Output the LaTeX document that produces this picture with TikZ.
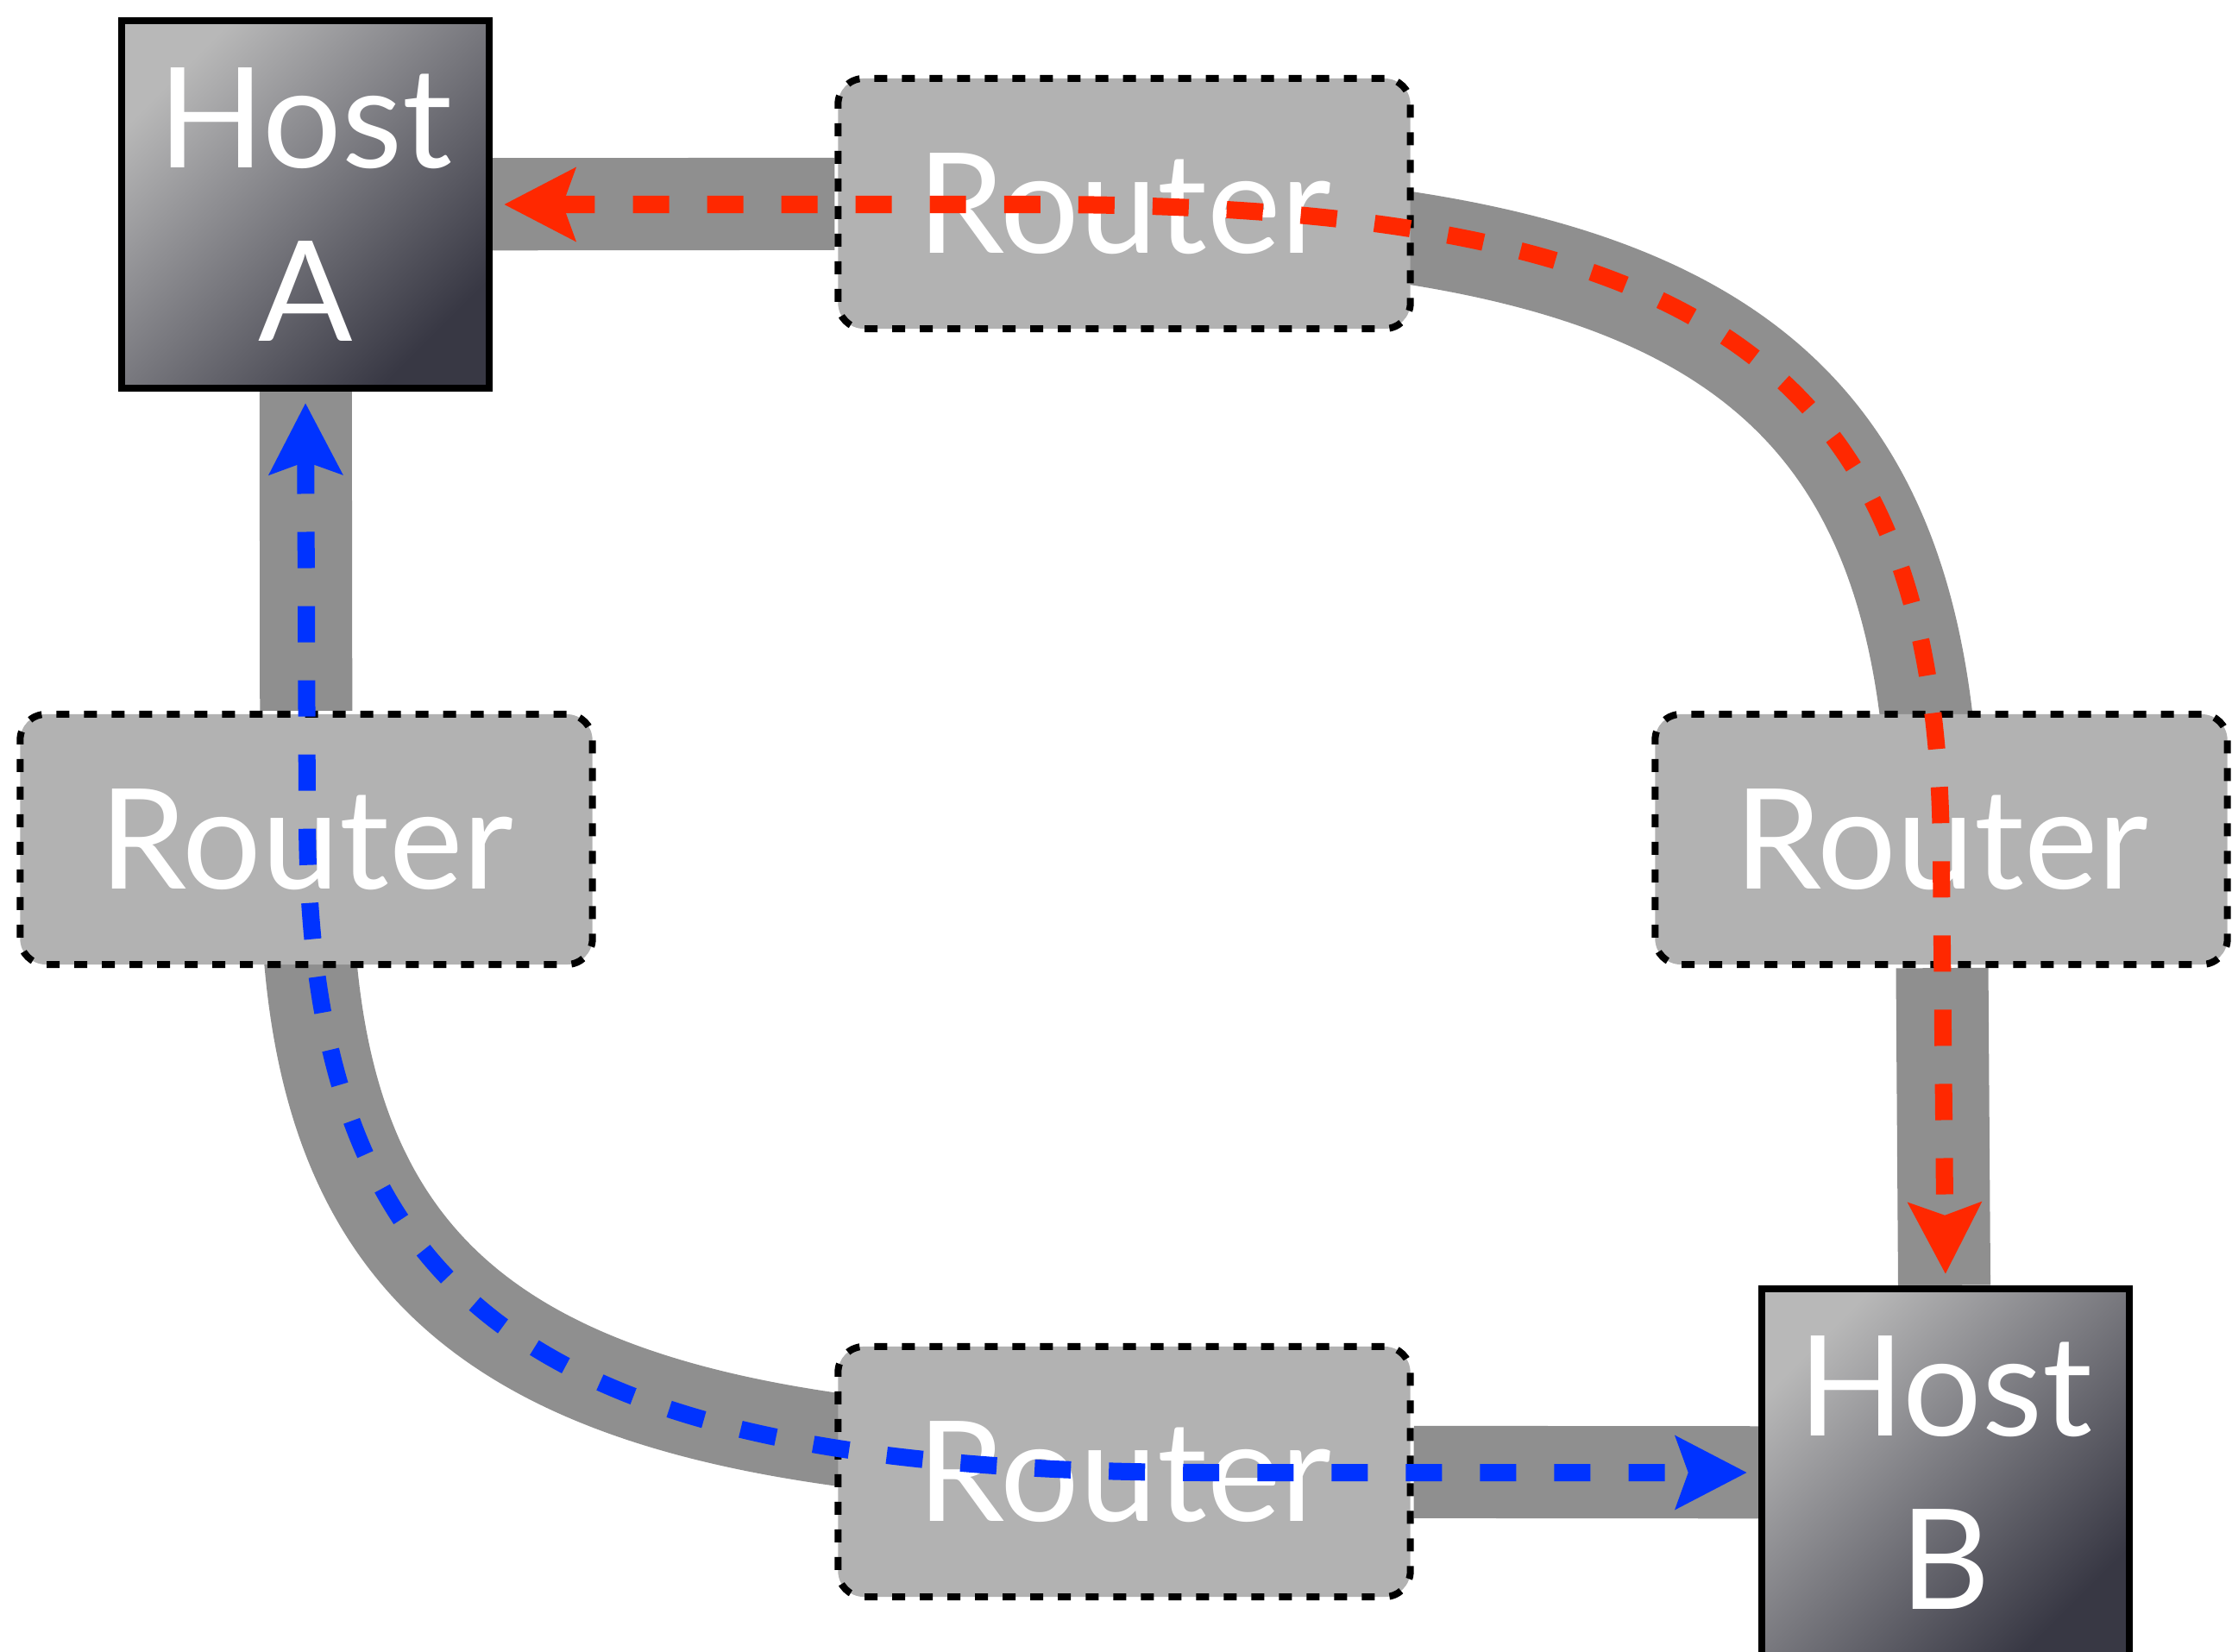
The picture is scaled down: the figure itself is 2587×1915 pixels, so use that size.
\documentclass[tikz,border=0pt]{standalone}
\usepackage{fontspec}
\setmainfont{Lato}
\usetikzlibrary{arrows.meta,backgrounds}

\definecolor{linkgray}{HTML}{8F8F8F}
\definecolor{routergray}{HTML}{B2B2B2}
\definecolor{hostlight}{HTML}{B8B8B8}
\definecolor{hostdark}{HTML}{383844}
\definecolor{pathred}{HTML}{FF2800}
\definecolor{pathblue}{HTML}{0033FF}

\begin{document}
\begin{tikzpicture}[
    x=0.01cm, y=-0.01cm,
    font=\fontsize{46}{57}\selectfont,
    host/.style={draw, line width=0.08cm, top color=hostlight, bottom color=hostdark, shading angle=45, text=white, align=center, minimum size=4.26cm, inner sep=0pt},
    router/.style={draw, line width=0.08cm, dash pattern=on 0.15cm off 0.17cm, rounded corners=0.3cm, fill=routergray, text=white, minimum width=6.63cm, minimum height=2.9cm},
    link/.style={line width=1.07cm, linkgray},
    route/.style={line width=0.2cm, dash pattern=on 0.42cm off 0.44cm, {Stealth[length=0.82cm, width=0.83cm, inset=0.14cm]}-{Stealth[length=0.82cm, width=0.83cm, inset=0.14cm]}, shorten <=0.13cm, shorten >=0.13cm}
  ]
    \useasboundingbox (0,0) rectangle (2587,1915);

    \node[host] (hostA) at (354,237) {Host\\A};
    \node[router] (routerT) at (1303,236) {Router};
    \node[router] (routerL) at (355,973) {Router};
    \node[router] (routerR) at (2250,973) {Router};
    \node[router] (routerB) at (1303,1706) {Router};
    \node[host] (hostB) at (2255,1707) {Host\\B};

    \begin{scope}[on background layer]
      \draw[link] (hostA) -- (routerT);
      \draw[link] (hostA) -- (routerL);
      \draw[link] (routerR) -- (hostB);
      \draw[link] (routerB) -- (hostB);
      \draw[link] ([shift={(-111,12)}]routerT.center) .. controls +(787,0) and +(0,-571) .. ([shift={(-8,27)}]routerR.center);
      \draw[link] ([shift={(111,-12)}]routerB.center) .. controls +(-790,0) and +(0,530) .. ([shift={(0,27)}]routerL.center);
    \end{scope}

    \draw[route, pathred] (hostA.east) -- (1200,237) .. controls +(787,0) and +(0,-571) .. (2250,1000) -- (hostB.north);
    \draw[route, pathblue] (hostA.south) -- (356,944) .. controls +(0,571) and +(-787,0) .. (1406,1707) -- (hostB.west);
  \end{tikzpicture}
\end{document}
